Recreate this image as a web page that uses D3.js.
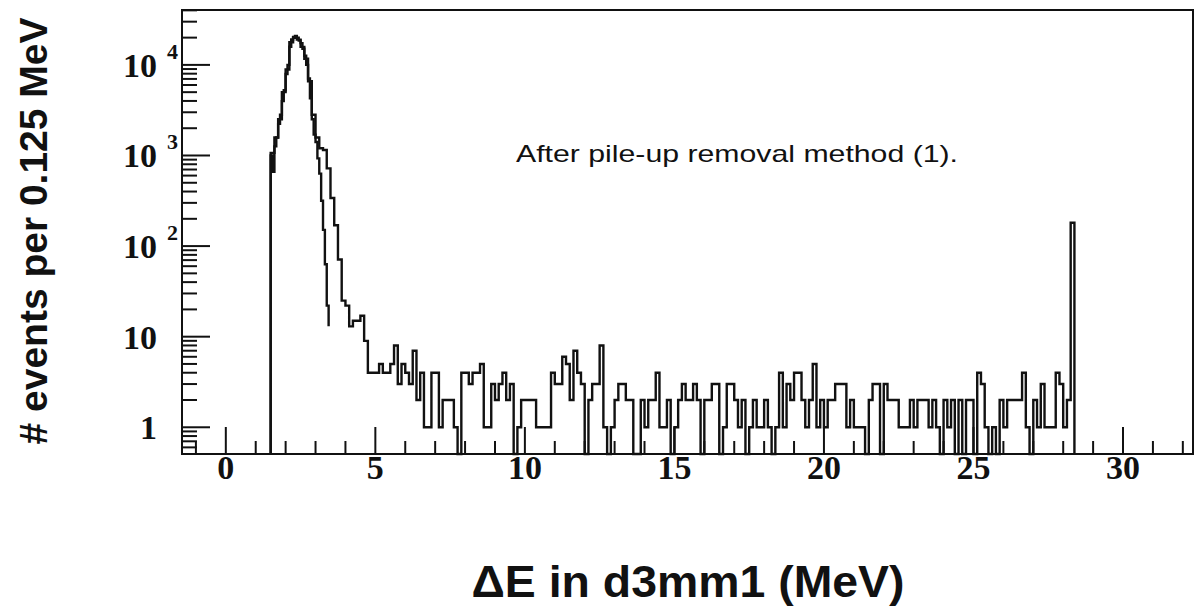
<!DOCTYPE html>
<html><head><meta charset="utf-8">
<script src="https://cdn.jsdelivr.net/npm/d3@7"></script>
<style>body{margin:0;background:#fff} svg{display:block}</style>
</head><body><svg id="c" width="1195" height="614"></svg>
<script>
// ---- data ----
const histStart = 1.5;          // MeV, left edge of first bin
const binWidth = 0.125;         // MeV per bin, main histogram
const countsA = [
  1070,1580,2510,5010,8910,17800,20400,19000,15800,11700,   // 0-9
  6600,2820,1580,1200,1150,720,340,170,71,25,               // 10-19
  22,13,15,15,17,9,4,4,4,5,                                 // 20-29
  4,4,5,8,3,5,4,3,7,2,                                      // 30-39
  4,1,1,4,4,1,2,2,2,1,                                      // 40-49
  0,4,4,3,4,4,5,1,1,3,                                      // 50-59
  2,3,4,2,3,0,1,2,2,2,                                      // 60-69
  2,1,1,1,1,4,3,3,6,5,                                      // 70-79
  2,7,4,3,0,2,3,3,8,1,                                      // 80-89
  0,1,2,3,3,2,2,0,0,2,                                      // 90-99
  1,2,2,4,1,1,2,0,1,2,                                      // 100-109
  3,2,2,3,2,0,2,2,3,3,                                      // 110-119
  0,1,3,3,2,1,2,0,1,2,                                      // 120-129
  1,1,2,1,0,1,4,1,3,2,                                      // 130-139
  4,4,2,1,2,5,1,2,1,2,                                      // 140-149
  2,3,3,3,1,2,1,1,1,0,                                      // 150-159
  2,3,3,0,3,2,2,2,1,1,                                      // 160-169
  1,2,1,2,2,2,1,2,1,0,                                      // 170-179
  2,1,2,0,2,0,2,2,0,4,                                      // 180-189
  3,1,0,1,0,2,1,2,2,2,                                      // 190-199
  2,4,1,0,2,1,3,1,1,1,                                      // 200-209
  4,3,1,2,181                                               // 210-214
];
const fineWidth = 0.0625;       // MeV per bin, second (narrow) curve
const countsB = [
  1000,660,1260,1580,2240,2820,3980,5250,7940,10000,
  15850,19050,19950,20900,19950,18600,17400,15100,12600,10000,
  7080,4270,2510,1700,1410,930,630,316,151,63,
  22
];
const countsBTail = 13;

const xTickValues = d3.range(-1, 33);
const xMajorEvery = 5;
const yDecades = [1, 10, 100, 1000, 10000];
const yLabelBase = ["1", "10", "10", "10", "10"];
const yLabelExp = ["", "", "2", "3", "4"];
const annotation = "After pile-up removal method (1).";
const xTitle = "\u0394E in d3mm1 (MeV)";
const yTitle = "# events per 0.125 MeV";

// ---- scales ----
const svg = d3.select("#c");
const x = d3.scaleLinear().domain([-1.465, 32.34]).range([182, 1193]);
const y = d3.scaleLog().domain([0.507, 40360]).range([454, 10]);
const [x0, x1] = x.range();
const [yb, yt] = y.range();
const yv = v => y(Math.max(v, y.domain()[0]));

svg.append("rect").attr("width", 1195).attr("height", 614).attr("fill", "#fff");

// ---- histograms ----
function histPath(start, w, counts, tail) {
  const p = d3.path();
  p.moveTo(x(start), yb);
  counts.forEach((c, i) => {
    p.lineTo(x(start + i * w), yv(c));
    p.lineTo(x(start + (i + 1) * w), yv(c));
  });
  const xe = x(start + counts.length * w);
  p.lineTo(xe, tail == null ? yb : yv(tail));
  return p.toString();
}
svg.append("path").attr("d", histPath(histStart, fineWidth, countsB, countsBTail))
  .attr("fill", "none").attr("stroke", "#111").attr("stroke-width", 2.4);
svg.append("path").attr("d", histPath(histStart, binWidth, countsA, null))
  .attr("fill", "none").attr("stroke", "#111").attr("stroke-width", 2.4);

// ---- ticks ----
const tg = svg.append("g").attr("stroke", "#111").attr("stroke-width", 2);
xTickValues.forEach(v => {
  const len = (v % xMajorEvery === 0) ? 27 : 13;
  tg.append("line").attr("x1", x(v)).attr("x2", x(v)).attr("y1", yb).attr("y2", yb - len);
});
const yMinor = [];
[0.1, 1, 10, 100, 1000, 10000].forEach(d => {
  for (let m = 2; m <= 9; m++) {
    const v = m * d;
    if (v >= y.domain()[0] && v <= y.domain()[1]) yMinor.push(v);
  }
});
yMinor.forEach(v => {
  tg.append("line").attr("x1", x0).attr("x2", x0 + 15).attr("y1", y(v)).attr("y2", y(v));
});
yDecades.forEach(v => {
  tg.append("line").attr("x1", x0).attr("x2", x0 + 28).attr("y1", y(v)).attr("y2", y(v));
});

// frame
svg.append("rect").attr("x", x0).attr("y", yt).attr("width", x1 - x0).attr("height", yb - yt)
  .attr("fill", "none").attr("stroke", "#111").attr("stroke-width", 2);

// ---- tick labels ----
const serif = "'Liberation Serif','DejaVu Serif',serif";
xTickValues.filter(v => v % xMajorEvery === 0 && v >= 0).forEach(v => {
  svg.append("text").attr("x", x(v)).attr("y", 479).attr("text-anchor", "middle")
    .attr("font-family", serif).attr("font-weight", "bold").attr("font-size", 34)
    .attr("fill", "#111").text(String(v));
});
yDecades.forEach((v, i) => {
  svg.append("text").attr("x", 157).attr("y", y(v) + 12).attr("text-anchor", "end")
    .attr("font-family", serif).attr("font-weight", "bold").attr("font-size", 34)
    .attr("fill", "#111").text(yLabelBase[i]);
  if (yLabelExp[i]) {
    svg.append("text").attr("x", 167).attr("y", y(v) - 6).attr("text-anchor", "start")
      .attr("font-family", serif).attr("font-weight", "bold").attr("font-size", 22)
      .attr("fill", "#111").text(yLabelExp[i]);
  }
});

// ---- titles & annotation ----
const sans = "'Liberation Sans',Arial,sans-serif";
svg.append("text").attr("x", 516).attr("y", 162)
  .attr("font-family", sans).attr("font-size", 24).attr("fill", "#111")
  .attr("textLength", 442).attr("lengthAdjust", "spacingAndGlyphs").text(annotation);
svg.append("text").attr("x", 688).attr("y", 597).attr("text-anchor", "middle")
  .attr("font-family", sans).attr("font-weight", "bold").attr("font-size", 44).attr("fill", "#111")
  .attr("textLength", 433).attr("lengthAdjust", "spacingAndGlyphs").text(xTitle);
svg.append("text").attr("transform", "translate(47,231) rotate(-90)").attr("text-anchor", "middle")
  .attr("font-family", sans).attr("font-weight", "bold").attr("font-size", 38).attr("fill", "#111")
  .attr("textLength", 427).attr("lengthAdjust", "spacingAndGlyphs").text(yTitle);
</script>
</body></html>
